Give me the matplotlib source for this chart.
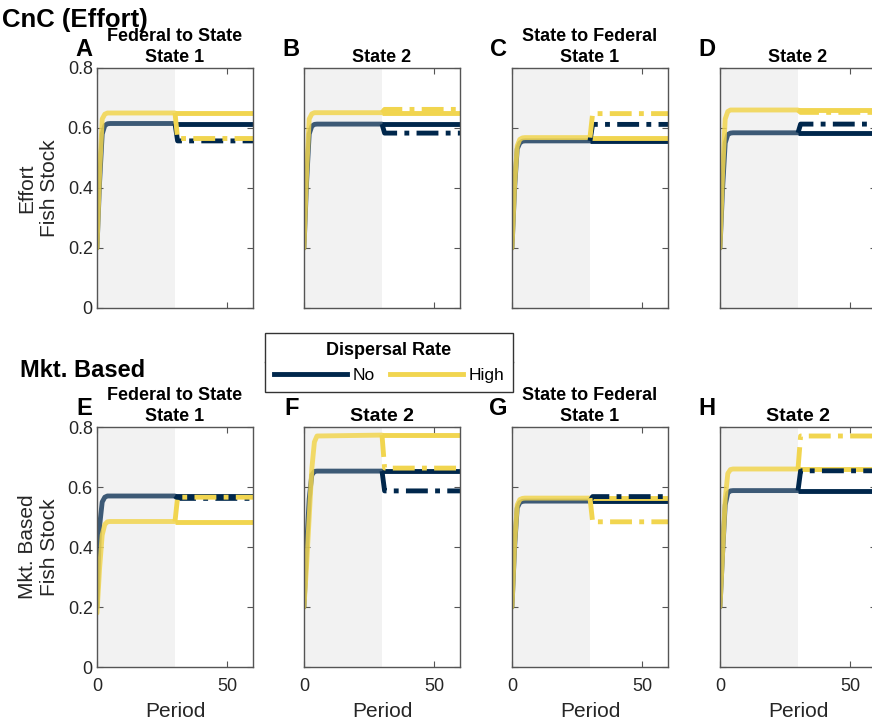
import matplotlib.pyplot as plt
from matplotlib.lines import Line2D

plt.rcParams['font.family'] = ['Liberation Sans', 'DejaVu Sans']

NAVY = '#00274C'
MAIZE = '#F1D54F'

# periods used for the spin-up (before the policy switch) and after it
pre_t = [0, 1, 2, 3, 4, 5, 30]
post_t = [30, 31, 60]
t_end = 60
switch_t = 30

panel_letters = ['A', 'B', 'C', 'D', 'E', 'F', 'G', 'H']
panel_titles = ['Federal to State\nState 1', 'State 2', 'State to Federal\nState 1', 'State 2',
                'Federal to State\nState 1', 'State 2', 'State to Federal\nState 1', 'State 2']
row_names = ['CnC (Effort)', 'Mkt. Based']
row_ylabels = ['Effort\nFish Stock', 'Mkt. Based\nFish Stock']

# fish stock, no dispersal, periods 0..30
no_pre = [
    [0.20, 0.42, 0.58, 0.608, 0.614, 0.615, 0.615],
    [0.20, 0.42, 0.58, 0.606, 0.612, 0.613, 0.613],
    [0.20, 0.40, 0.53, 0.550, 0.556, 0.557, 0.557],
    [0.20, 0.40, 0.55, 0.578, 0.583, 0.584, 0.584],
    [0.20, 0.47, 0.55, 0.566, 0.570, 0.570, 0.570],
    [0.20, 0.40, 0.56, 0.640, 0.652, 0.653, 0.653],
    [0.20, 0.40, 0.53, 0.548, 0.552, 0.553, 0.553],
    [0.20, 0.38, 0.54, 0.580, 0.587, 0.588, 0.588],
]
# fish stock, high dispersal, periods 0..30
high_pre = [
    [0.20, 0.45, 0.63, 0.646, 0.650, 0.650, 0.650],
    [0.20, 0.45, 0.63, 0.647, 0.651, 0.651, 0.651],
    [0.20, 0.41, 0.54, 0.562, 0.567, 0.568, 0.568],
    [0.20, 0.45, 0.63, 0.655, 0.660, 0.660, 0.660],
    [0.18, 0.33, 0.44, 0.475, 0.484, 0.485, 0.485],
    [0.20, 0.34, 0.50, 0.660, 0.750, 0.770, 0.773],
    [0.20, 0.41, 0.54, 0.558, 0.562, 0.563, 0.563],
    [0.20, 0.38, 0.56, 0.645, 0.658, 0.660, 0.660],
]
# new steady state after the switch (dash-dot lines)
no_new = [0.557, 0.583, 0.612, 0.613, 0.562, 0.587, 0.568, 0.654]
high_new = [0.565, 0.662, 0.648, 0.652, 0.566, 0.663, 0.484, 0.770]

W, H = 872, 725
lefts = [97, 304, 512, 720]
tops = [68, 427]
aw, ah = 156, 240

fig = plt.figure(figsize=(W / 100, H / 100), dpi=100)

lw = 3.5
dd = (4.5, 1.5, 1.0, 1.5)

for i in range(8):
    r, c = divmod(i, 4)
    ax = fig.add_axes([lefts[c] / W, 1 - (tops[r] + ah) / H, aw / W, ah / H])
    ax.axvspan(0, switch_t, color='#F2F2F2', lw=0, zorder=0)

    nv = no_pre[i]
    hv = high_pre[i]
    ax.plot(pre_t, nv, color=NAVY, alpha=0.75, lw=lw, solid_joinstyle='round', solid_capstyle='round')
    ax.plot(pre_t, hv, color=MAIZE, alpha=0.85, lw=lw, solid_joinstyle='round', solid_capstyle='round')
    ax.plot([switch_t, t_end], [nv[-1], nv[-1]], color=NAVY, lw=lw, solid_capstyle='butt')
    ax.plot([switch_t, t_end], [hv[-1], hv[-1]], color=MAIZE, lw=lw, solid_capstyle='butt')
    ax.plot(post_t, [nv[-1], no_new[i], no_new[i]], color=NAVY, lw=lw, dashes=dd,
            dash_joinstyle='round')
    ax.plot(post_t, [hv[-1], high_new[i], high_new[i]], color=MAIZE, lw=lw, dashes=dd,
            dash_joinstyle='round')

    ax.set_xlim(0, t_end)
    ax.set_ylim(0, 0.8)
    ax.set_xticks([0, 50])
    ax.set_yticks([0, 0.2, 0.4, 0.6, 0.8])
    ax.tick_params(direction='in', length=4, width=0.8, top=True, right=True,
                   labelsize=13, color='#555555', labelcolor='#262626', pad=3)
    ax.tick_params(axis='x', pad=8)
    for s in ax.spines.values():
        s.set_color('#555555')
        s.set_linewidth(1.0)

    if c == 0:
        ax.set_yticklabels(['0', '0.2', '0.4', '0.6', '0.8'])
        ax.set_ylabel(row_ylabels[r], fontsize=15, color='#262626', linespacing=1.25, labelpad=6)
    else:
        ax.set_yticklabels([])
    if r == 1:
        ax.set_xticklabels(['0', '50'])
        ax.set_xlabel('Period', fontsize=15, color='#262626', labelpad=5)
    else:
        ax.set_xticklabels([])

    tsize = 14 if (r == 1 and c in (1, 3)) else 13
    ax.set_title(panel_titles[i], fontsize=tsize, fontweight='bold', pad=4, linespacing=1.35)
    ax.text(-0.03, 1.05, panel_letters[i], transform=ax.transAxes, ha='right', va='baseline',
            fontsize=17, fontweight='bold')

fig.text(2 / W, 1 - 27 / H, row_names[0], fontsize=18.5, fontweight='bold', va='baseline')
fig.text(20 / W, 1 - 377 / H, row_names[1], fontsize=17, fontweight='bold', va='baseline')

handles = [Line2D([], [], color=NAVY, lw=lw), Line2D([], [], color=MAIZE, lw=lw)]
leg = fig.legend(handles, ['No', 'High'], ncol=2, title='Dispersal Rate',
                 loc='center', bbox_to_anchor=(389 / W, 1 - 362.5 / H),
                 fontsize=12.5, title_fontproperties={'weight': 'bold', 'size': 13},
                 handlelength=4.2, handletextpad=0.3, columnspacing=0.9,
                 fancybox=False, framealpha=1, edgecolor='#333333', borderpad=0.5)
leg.get_frame().set_linewidth(1.0)

# separator line between legend title and entries
fig.canvas.draw()
bb = leg.get_window_extent()
tb = leg.get_title().get_window_extent()
ysep = (tb.y0 - 3) / H
fig.add_artist(Line2D([bb.x0 / W, bb.x1 / W], [ysep, ysep], transform=fig.transFigure,
                      color='#333333', lw=1.0))

fig.savefig('out.png', dpi=100)
